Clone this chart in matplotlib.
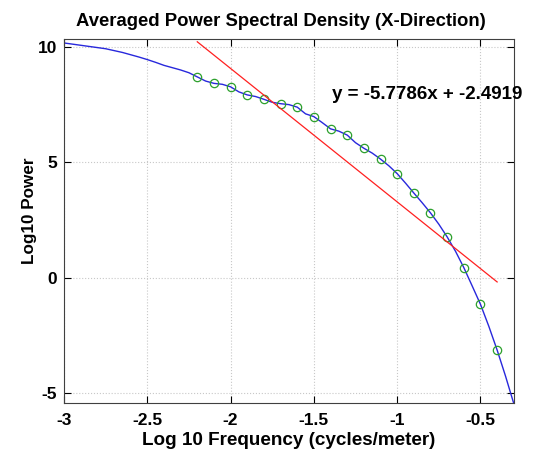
import numpy as np
import matplotlib
matplotlib.use("Agg")
import matplotlib.pyplot as plt
from matplotlib.ticker import MultipleLocator


# =========================
# Data
# =========================
# averaged PSD curve (log10 frequency, log10 power)
curve_x = [-3.0, -2.95, -2.9, -2.85, -2.8, -2.75, -2.7, -2.65, -2.6, -2.55,
           -2.5, -2.45, -2.4, -2.35, -2.3, -2.25, -2.2, -2.15, -2.1, -2.05,
           -2.0, -1.95, -1.9, -1.85, -1.8, -1.75, -1.7, -1.65, -1.6, -1.55,
           -1.5, -1.45, -1.4, -1.35, -1.3, -1.25, -1.2, -1.15, -1.1, -1.05,
           -1.0, -0.95, -0.9, -0.85, -0.8, -0.75, -0.7, -0.65, -0.6, -0.55,
           -0.5, -0.45, -0.4, -0.35, -0.3]
curve_y = [10.17, 10.12, 10.07, 10.02, 9.97, 9.92, 9.84, 9.76, 9.66, 9.56,
           9.45, 9.33, 9.20, 9.10, 9.00, 8.88, 8.70, 8.52, 8.42, 8.38,
           8.27, 8.05, 7.92, 7.85, 7.73, 7.60, 7.54, 7.50, 7.39, 7.10,
           6.98, 6.72, 6.45, 6.35, 6.18, 5.85, 5.61, 5.40, 5.14, 4.85,
           4.51, 4.10, 3.67, 3.25, 2.81, 2.32, 1.77, 1.15, 0.44, -0.35,
           -1.15, -2.10, -3.13, -4.25, -5.45]

# sampled points used for the fit (green circles)
sample_x = [-2.2, -2.1, -2.0, -1.9, -1.8, -1.7, -1.6, -1.5, -1.4, -1.3,
            -1.2, -1.1, -1.0, -0.9, -0.8, -0.7, -0.6, -0.5, -0.4]
sample_y = [8.70, 8.42, 8.27, 7.92, 7.73, 7.54, 7.39, 6.98, 6.45, 6.18,
            5.61, 5.14, 4.51, 3.67, 2.81, 1.77, 0.44, -1.15, -3.13]

# linear fit shown in the annotation
fit_slope = -5.7786
fit_intercept = -2.4919

plt.rcParams["font.family"] = ["Liberation Sans", "DejaVu Sans"]
plt.rcParams["font.weight"] = "bold"

fig = plt.figure(figsize=(5.38, 4.54), dpi=100)
ax = fig.add_axes([0.119, 0.112, 0.836, 0.801])

ax.plot(curve_x, curve_y, color="#2828dc", lw=1.0)
ax.plot(sample_x, sample_y, "o", mfc="none", mec="#2ca02c", ms=6, mew=0.9)

fit_x = np.array([sample_x[0], sample_x[-1]])
ax.plot(fit_x, fit_slope * fit_x + fit_intercept, color="#ff2020", lw=0.9)

ax.text(-1.39, 7.92, f"y = {fit_slope:.4f}x + {fit_intercept:.4f}",
        fontsize=13.5, fontweight="bold", va="center", ha="left")

ax.set_xlim(-3, -0.3)
ax.set_ylim(-5.43, 10.32)
ax.xaxis.set_major_locator(MultipleLocator(0.5))
ax.yaxis.set_major_locator(MultipleLocator(5))
ax.xaxis.set_major_formatter(plt.FuncFormatter(lambda v, p: f"{v:g}"))
ax.yaxis.set_major_formatter(plt.FuncFormatter(lambda v, p: f"{v:g}"))

ax.grid(True, color="#c8c8c8", linestyle=":", lw=0.8)
ax.tick_params(direction="in", top=True, right=True, length=5,
               labelsize=12.5, width=0.8)
ax.tick_params(axis="x", pad=7)
ax.tick_params(axis="y", pad=5)
for lab in ax.get_xticklabels() + ax.get_yticklabels():
    lab.set_fontweight("bold")
for s in ax.spines.values():
    s.set_linewidth(0.8)
    s.set_color("#404040")

ax.set_title("Averaged Power Spectral Density (X-Direction)",
             fontsize=13.3, fontweight="bold", pad=10, x=0.482)
ax.set_xlabel("Log 10 Frequency (cycles/meter)", fontsize=13.6,
              fontweight="bold", labelpad=3)
ax.set_ylabel("Log10 Power", fontsize=12.3, fontweight="bold")
ax.yaxis.set_label_coords(-0.06, 0.528)

fig.savefig("out.png", dpi=100)
